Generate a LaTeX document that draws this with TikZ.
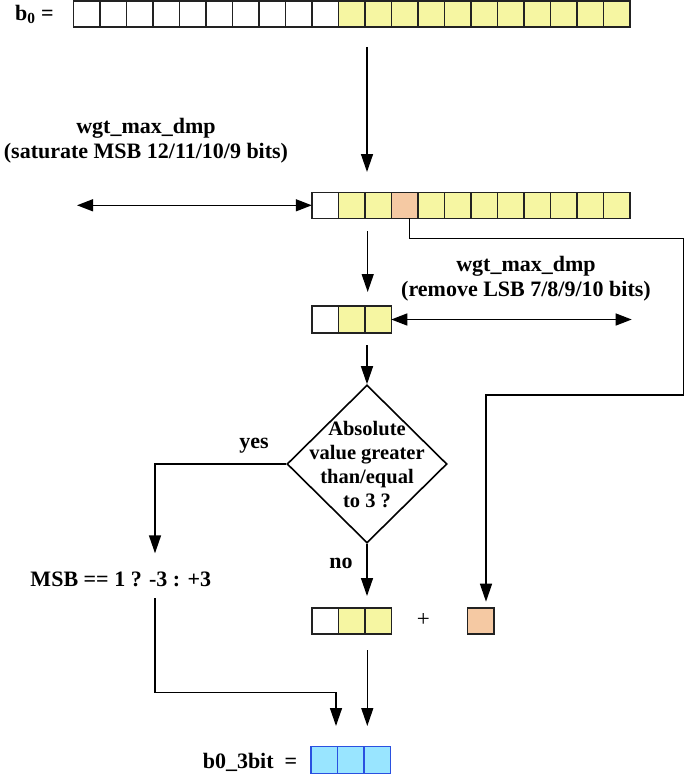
\documentclass[tikz,border=0pt]{standalone}
\usepackage{fontspec}
\setmainfont{Liberation Serif}
\usetikzlibrary{arrows.meta,shapes.geometric}
\definecolor{cyel}{HTML}{F6F6A2}
\definecolor{corg}{HTML}{F5C9A3}
\definecolor{cblu}{HTML}{99E5FF}
\definecolor{cblb}{HTML}{2A50E0}
\definecolor{cedge}{HTML}{222222}
\begin{document}
\begin{tikzpicture}[x=1pt,y=-1pt,
  font=\bfseries\fontsize{22}{25}\selectfont,
  cell/.style={draw=cedge, line width=1.5pt, minimum width=26.5pt, minimum height=26pt, inner sep=0pt, outer sep=0pt, fill=white},
  ycell/.style={cell, fill=cyel},
  ocell/.style={cell, fill=corg},
  bcell/.style={cell, draw=cblb, fill=cblu},
  conn/.style={draw=black, line width=1.4pt},
  arr/.style={conn, -{Triangle[length=18pt,width=12pt]}},
  darr/.style={conn, {Triangle[length=16pt,width=12pt]}-{Triangle[length=16pt,width=12pt]}},
  lbl/.style={inner sep=0pt, anchor=base},
  dia/.style={shape=diamond, draw=black, line width=1.6pt, minimum width=160pt, minimum height=158pt, inner sep=0pt}]
\path[use as bounding box] (0,0) rectangle (685,776);

% top row b0
\foreach \i in {1,...,10} \node[cell] (t\i) at ({73.3+26.5*(\i-0.5)},14) {};
\foreach \i in {11,...,21} \node[ycell] (t\i) at ({73.3+26.5*(\i-0.5)},14) {};
\node[lbl, anchor=base west] (b0lbl) at (15,20.7) {b\textsubscript{0} =};

% second row
\node[cell] (s1) at ({73.3+26.5*9.5},205.3) {};
\foreach \i in {2,3,5,6,7,8,9,10,11,12} \node[ycell] (s\i) at ({73.3+26.5*(\i+8.5)},205.3) {};
\node[ocell] (s4) at ({73.3+26.5*12.5},205.3) {};

% third row
\node[cell, minimum height=27pt] (r1) at (325,319.5) {};
\node[ycell, minimum height=27pt] (r2) at (351.5,319.5) {};
\node[ycell, minimum height=27pt] (r3) at (378,319.5) {};

% fourth row
\node[cell] (q1) at (325,621) {};
\node[ycell] (q2) at (351.5,621) {};
\node[ycell] (q3) at (378,621) {};
\node[lbl, font=\mdseries\fontsize{23}{25}\selectfont] (plus) at (423.3,626.7) {+};
\node[ocell, minimum width=26.7pt] (o) at (480.7,621) {};

% result row
\node[bcell, minimum height=26.6pt] (bb1) at (324.3,760) {};
\node[bcell, minimum height=26.6pt] (bb2) at (350.8,760) {};
\node[bcell, minimum height=26.6pt] (bb3) at (377.3,760) {};
\node[lbl] (reslbl) at (250,768.3) {b0\_3bit\ \ =};

% labels
\node[inner sep=0pt, align=center] (wgt1) at (146,140.7) {wgt\_max\_dmp\\(saturate MSB 12/11/10/9 bits)};
\node[inner sep=0pt, align=center] (wgt2) at (526,279.2) {wgt\_max\_dmp\\(remove LSB 7/8/9/10 bits)};

% decision
\node[dia] (dec) at (367,464) {};
\node[inner sep=0pt, align=center, font=\bfseries\fontsize{20.5}{24}\selectfont] (dectxt) at (367,464.2) {Absolute\\value greater\\than/equal\\to 3 ?};
\node[lbl] (yes) at (254,448.3) {yes};
\node[lbl] (no) at (341,568) {no};
\node[lbl] (msb) at (120.8,586.7) {MSB == 1 ? -3 : +3};

% coordinates
\coordinate (c1a) at (367,47);
\coordinate (c1b) at (367,172);
\coordinate (c2) at (77,205.3);
\coordinate (c3s) at (409.3,218.3);
\coordinate (c3r) at (683.3,238.3);
\coordinate (c3d) at (486,395);
\coordinate (c3e) at (486,601.7);
\coordinate (c4a) at (367.7,231);
\coordinate (c4b) at (367.7,292);
\coordinate (c5) at (631.7,319.5);
\coordinate (c6) at (367,345);
\coordinate (c7) at (367,596);
\coordinate (c8) at (155,553.3);
\coordinate (c9a) at (155,598);
\coordinate (c9m) at (336,692.3);
\coordinate (c9b) at (336,726);
\coordinate (c10a) at (367.3,650);
\coordinate (c10b) at (367.3,726);

% connectors
\draw[arr] (c1a) -- (c1b);
\draw[darr] (c2) -- (s1.west);
\draw[arr] (c3s) |- (c3r) |- (c3d) -- (c3e);
\draw[arr] (c4a) -- (c4b);
\draw[darr] (r3.east) -- (c5);
\draw[arr] (c6) -- (dec.north);
\draw[arr] (dec.south) -- (c7);
\draw[arr] (dec.west) -| (c8);
\draw[arr] (c9a) |- (c9m) -- (c9b);
\draw[arr] (c10a) -- (c10b);
\end{tikzpicture}
\end{document}
